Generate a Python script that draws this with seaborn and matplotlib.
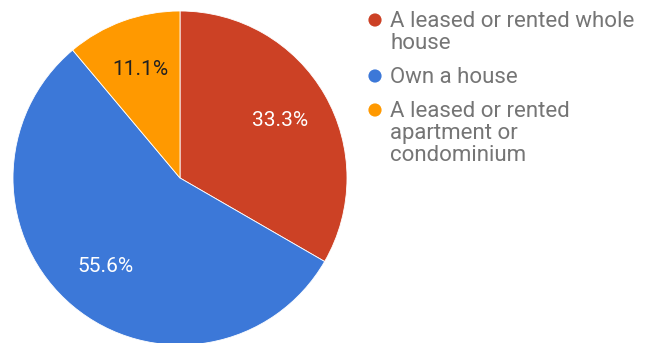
import matplotlib
matplotlib.use("Agg")
import matplotlib.pyplot as plt
import seaborn as sns

categories = ["A leased or rented whole house", "Own a house",
              "A leased or rented apartment or condominium"]
legend_labels = ["A leased or rented whole\nhouse", "Own a house",
                 "A leased or rented\napartment or\ncondominium"]
values = [3, 5, 1]
colors = ["#cc4125", "#3c78d8", "#ff9900"]
pct_colors = ["white", "white", "#212121"]

sns.set_theme(style="white")
plt.rcParams["font.family"] = ["Roboto", "DejaVu Sans"]

W, H = 645, 343
fig = plt.figure(figsize=(W / 100, H / 100), dpi=100)

cx, cy, r = 180, 178, 167
ax = fig.add_axes([(cx - r) / W, (H - cy - r) / H, 2 * r / W, 2 * r / H])
palette = sns.color_palette(colors)
wedges, texts, autotexts = ax.pie(
    values, colors=palette, startangle=90, counterclock=False,
    autopct="%1.1f%%", pctdistance=0.69, radius=1,
    wedgeprops=dict(edgecolor="white", linewidth=0.6),
    textprops=dict(fontsize=15),
)
for t, c in zip(autotexts, pct_colors):
    t.set_color(c)
ax.set_xlim(-1, 1)
ax.set_ylim(-1, 1)
ax.set_aspect("equal")
ax.axis("off")

# legend drawn in pixel coordinates
lax = fig.add_axes([0, 0, 1, 1])
lax.set_xlim(0, W)
lax.set_ylim(H, 0)
lax.axis("off")
marker_y = [20, 76, 110]
text_top = [11, 67, 101]
for lab, col, my, ty in zip(legend_labels, colors, marker_y, text_top):
    lax.scatter([375], [my], s=90, color=col, edgecolors="none")
    lax.text(390, ty, lab, fontsize=16, color="#757575", va="top", ha="left",
             linespacing=1.06)

fig.savefig("out.png", dpi=100)
